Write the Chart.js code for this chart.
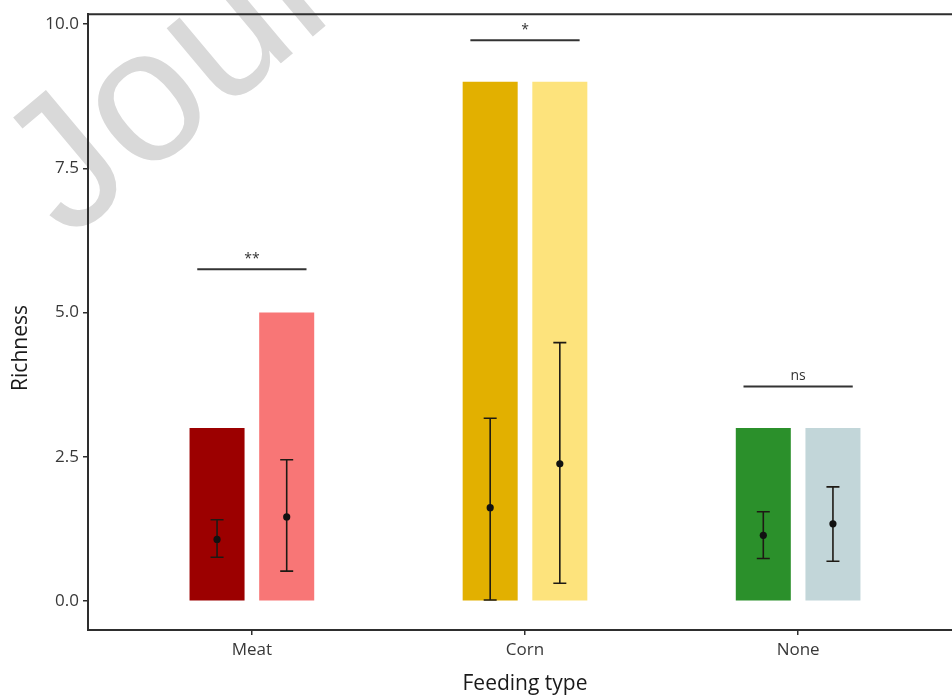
<!DOCTYPE html>
<html><head><meta charset="utf-8">
<script src="https://cdn.jsdelivr.net/npm/chart.js@4.4.1/dist/chart.umd.min.js"></script>
<style>
html,body{margin:0;padding:0;background:#fff;overflow:hidden;width:952px;height:697px}
#wrap{width:962px;height:697px;position:relative}
canvas{display:block}
</style></head>
<body><div id="wrap"><canvas id="c" width="962" height="697"></canvas></div>
<script>
// ---- data ----
const categories = ['Meat', 'Corn', 'None'];
const barA = [3, 9, 3];
const barB = [5, 9, 3];
const colorsA = ['#9C0000', '#E2B000', '#2B902B'];
const colorsB = ['#F87676', '#FDE37C', '#C2D6D9'];
const meanA = [1.07, 1.62, 1.14];
const lowA  = [0.76, 0.02, 0.74];
const highA = [1.41, 3.17, 1.55];
const meanB = [1.46, 2.38, 1.34];
const lowB  = [0.52, 0.31, 0.69];
const highB = [2.45, 4.48, 1.98];
const sigLabels = ['**', '*', 'ns'];
const sigY = [5.75, 9.72, 3.72];
const yTicks = [0, 2.5, 5, 7.5, 10];
const xTitle = 'Feeding type';
const yTitle = 'Richness';
const watermark = 'Journal Pre-proof';

const FONT = '"Open Sans", "DejaVu Sans", sans-serif';
const AXIS = '#2e2e2e';

const watermarkPlugin = {
  id: 'watermark',
  beforeDraw(chart) {
    const ctx = chart.ctx;
    ctx.save();
    ctx.translate(68, 242);
    ctx.rotate(-40 * Math.PI / 180);
    ctx.font = '190px "Liberation Sans", Arial, sans-serif';
    ctx.fillStyle = '#d9d9d9';
    ctx.textBaseline = 'alphabetic';
    ctx.fillText(watermark, 0, 0);
    ctx.restore();
  }
};

const annotPlugin = {
  id: 'annot',
  afterDatasetsDraw(chart) {
    const ctx = chart.ctx, ys = chart.scales.y, xs = chart.scales.x;
    const sets = [[meanA, lowA, highA], [meanB, lowB, highB]];
    ctx.save();
    sets.forEach((s, di) => {
      const meta = chart.getDatasetMeta(di);
      meta.data.forEach((bar, i) => {
        const x = bar.x;
        const ym = ys.getPixelForValue(s[0][i]);
        const yl = ys.getPixelForValue(s[1][i]);
        const yh = ys.getPixelForValue(s[2][i]);
        ctx.strokeStyle = '#1e1a14';
        ctx.lineWidth = 1.6;
        ctx.beginPath();
        ctx.moveTo(x, yl); ctx.lineTo(x, yh);
        ctx.moveTo(x - 6.5, yl); ctx.lineTo(x + 6.5, yl);
        ctx.moveTo(x - 6.5, yh); ctx.lineTo(x + 6.5, yh);
        ctx.stroke();
        ctx.fillStyle = '#111';
        ctx.beginPath();
        ctx.arc(x, ym, 3.6, 0, Math.PI * 2);
        ctx.fill();
      });
    });
    // significance brackets
    categories.forEach((c, i) => {
      const xc = xs.getPixelForValue(i + 1);
      const half = xs.getPixelForValue(i + 1.2) - xc;
      const y = ys.getPixelForValue(sigY[i]);
      ctx.strokeStyle = '#333';
      ctx.lineWidth = 2;
      ctx.beginPath();
      ctx.moveTo(xc - half, y); ctx.lineTo(xc + half, y);
      ctx.stroke();
      ctx.fillStyle = '#333';
      ctx.font = '14px ' + FONT;
      ctx.textAlign = 'center';
      ctx.textBaseline = 'bottom';
      ctx.fillText(sigLabels[i], xc, y - 3);
    });
    ctx.restore();
  },
  afterDraw(chart) {
    const ctx = chart.ctx, a = chart.chartArea;
    ctx.save();
    ctx.strokeStyle = AXIS;
    ctx.lineWidth = 2;
    ctx.beginPath();
    ctx.moveTo(a.left - 1, a.top); ctx.lineTo(a.right, a.top);
    ctx.moveTo(a.right - 1, a.top); ctx.lineTo(a.right - 1, a.bottom);
    ctx.stroke();
    // y axis title
    ctx.translate(21, 348);
    ctx.rotate(-Math.PI / 2);
    ctx.fillStyle = '#1a1a1a';
    ctx.font = '21px ' + FONT;
    ctx.textAlign = 'center';
    ctx.textBaseline = 'middle';
    ctx.fillText(yTitle, 0, 0);
    ctx.restore();
  }
};

new Chart(document.getElementById('c'), {
  type: 'bar',
  data: {
    datasets: [
      { label: 'Group 1', data: categories.map((c, i) => ({ x: i + 1, y: barA[i] })), backgroundColor: colorsA, borderWidth: 0 },
      { label: 'Group 2', data: categories.map((c, i) => ({ x: i + 1, y: barB[i] })), backgroundColor: colorsB, borderWidth: 0 }
    ]
  },
  options: {
    responsive: false,
    animation: false,
    devicePixelRatio: 1,
    categoryPercentage: 0.51,
    barPercentage: 0.79,
    layout: { padding: { left: 0, right: 0, top: 12, bottom: 0 } },
    plugins: { legend: { display: false }, tooltip: { enabled: false } },
    scales: {
      x: {
        type: 'linear', min: 0.4, max: 3.6, offset: false,
        grid: { offset: false, drawOnChartArea: false, drawTicks: true, tickLength: 5, color: AXIS, lineWidth: 1.5 },
        border: { display: true, color: AXIS, width: 2 },
        afterBuildTicks: s => { s.ticks = categories.map((c, i) => ({ value: i + 1 })); },
        ticks: { callback: v => categories[Math.round(v) - 1], font: { family: FONT, size: 17 }, color: '#383838', padding: 5, maxRotation: 0, autoSkip: false },
        title: { display: true, text: xTitle, font: { family: FONT, size: 21 }, color: '#1a1a1a', padding: { top: 0, bottom: 0 } },
        afterFit: s => { s.height = 67; }
      },
      y: {
        min: -0.5, max: 10.17,
        grid: { drawOnChartArea: false, drawTicks: true, tickLength: 5, color: AXIS, lineWidth: 1.5 },
        border: { display: true, color: AXIS, width: 2 },
        afterBuildTicks: s => { s.ticks = yTicks.map(v => ({ value: v })); },
        ticks: { callback: v => Number(v).toFixed(1), font: { family: FONT, size: 17 }, color: '#383838', padding: 4 },
        afterFit: s => { s.width = 88; }
      }
    }
  },
  plugins: [watermarkPlugin, annotPlugin]
});
</script>
</body></html>
